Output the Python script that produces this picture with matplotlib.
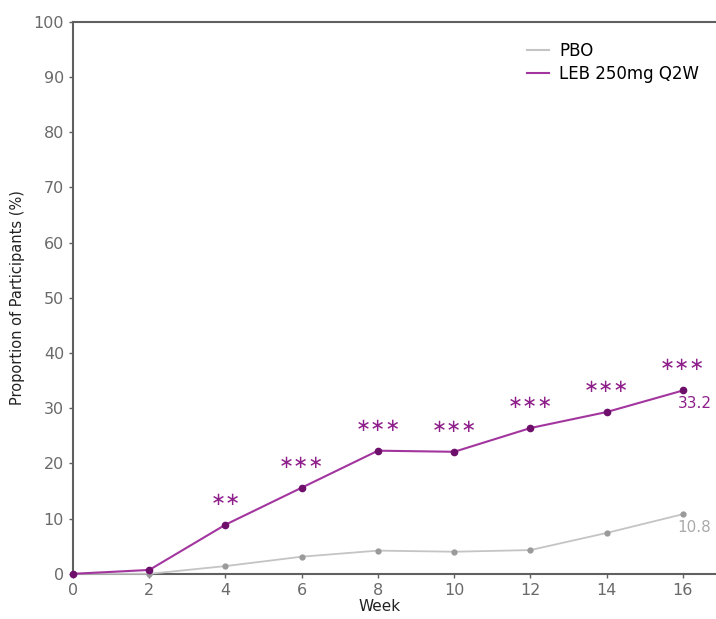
import numpy as np
import matplotlib
matplotlib.use('Agg')
import matplotlib.pyplot as plt
from matplotlib.lines import Line2D

# proportion of participants by week
weeks = [0, 2, 4, 6, 8, 10, 12, 14, 16]
pbo = [0, 0, 1.4, 3.1, 4.2, 4.0, 4.3, 7.4, 10.8]
leb = [0, 0.7, 8.9, 15.6, 22.3, 22.1, 26.4, 29.3, 33.2]
# significance marks over the LEB line (week 0 and 2 have none)
stars = [0, 0, 2, 3, 3, 3, 3, 3, 3]

purple = '#8e1f8a'
gray_line = '#c4c4c4'
axis_col = '#606060'

fig = plt.figure(figsize=(7.16, 6.19), dpi=100)
ax = fig.add_axes([0.102, 0.073, 0.897, 0.892])

ax.plot(weeks, pbo, color=gray_line, lw=1.3, marker='o', ms=3.5,
        mfc='#9a9a9a', mec='#9a9a9a', clip_on=False, zorder=3)
ax.plot(weeks, leb, color='#a2359e', lw=1.5, marker='o', ms=4.5,
        mfc='#6e0f6b', mec='#6e0f6b', clip_on=False, zorder=4)

for w, v, n in zip(weeks, leb, stars):
    if n:
        ax.annotate('\u2217' * n, (w, v), xytext=(0, 18),
                    textcoords='offset points', ha='center', va='center',
                    color=purple, fontsize=13)

# end-of-study values
ax.annotate('%.1f' % leb[-1], (weeks[-1], leb[-1]), xytext=(-4, -4),
            textcoords='offset points', ha='left', va='top', color=purple, fontsize=11)
ax.annotate('%.1f' % pbo[-1], (weeks[-1], pbo[-1]), xytext=(-4, -4),
            textcoords='offset points', ha='left', va='top', color='#aaaaaa', fontsize=11)

ax.set_xlim(0, 16.85)
ax.set_ylim(0, 100)
ax.set_xticks(range(0, 17, 2))
ax.set_yticks(range(0, 101, 10))
ax.tick_params(colors=axis_col, labelcolor='#6a6a6a', labelsize=11.5, length=3, width=1)

for side in ['left', 'bottom', 'top']:
    ax.spines[side].set_color(axis_col)
    ax.spines[side].set_linewidth(1.5)
ax.spines['right'].set_visible(False)

ax.set_xlabel('Week', fontsize=11, color='#222222')
ax.set_ylabel('Proportion of Participants (%)', fontsize=10.5, color='#222222')
ax.xaxis.set_label_coords(0.478, -0.045)
ax.yaxis.set_label_coords(-0.075, 0.5)

handles = [Line2D([], [], color=gray_line, lw=1.5),
           Line2D([], [], color='#a2359e', lw=1.5)]
ax.legend(handles, ['PBO', 'LEB 250mg Q2W'], loc='upper right',
          bbox_to_anchor=(0.998, 0.99), frameon=False, fontsize=12,
          handlelength=1.3, handletextpad=0.6, labelspacing=0.3)

fig.savefig('out.png', dpi=100)
